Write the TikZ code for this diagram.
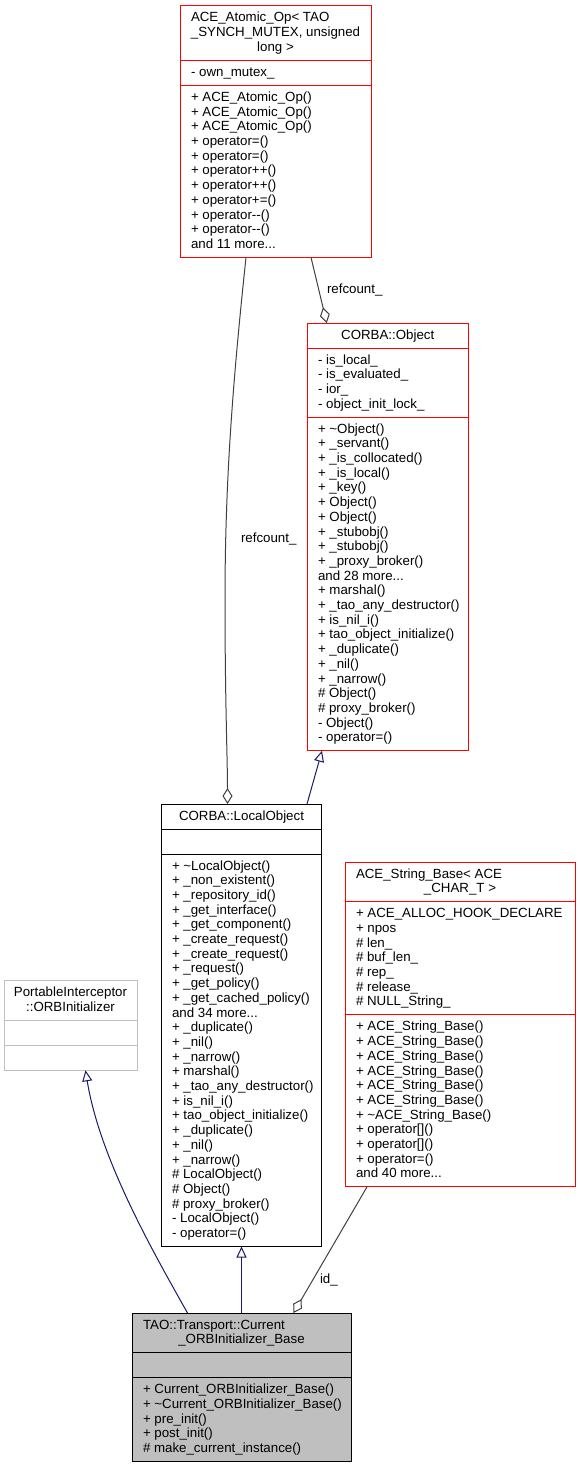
\documentclass[tikz,border=0pt]{standalone}
\usepackage{fontspec}
\setmainfont{Liberation Sans}
\usetikzlibrary{arrows.meta}
\definecolor{navy}{HTML}{191970}
\definecolor{edgegray}{HTML}{404040}
\definecolor{boxred}{HTML}{FF0000}
\definecolor{boxgray}{HTML}{BFBFBF}
\definecolor{lightgray}{HTML}{C0C0C0}
\newcommand\seclines[4]{\foreach \itm [count=\i from 0] in {#4}{\node[txt,anchor=base west] (#1\i) at ({#2},{#3+16+\i*14.7}) {\itm};}}
\begin{document}
\begin{tikzpicture}[x=1pt,y=-1pt,line width=1pt,
  txt/.style={inner sep=0pt,outer sep=0pt,font=\fontsize{13.3}{14.7}\selectfont},
  classbox/.style={draw=#1,minimum height=0pt,inner sep=0pt,outer sep=0pt,anchor=north west},
  agg/.style={draw=edgegray,-{Diamond[open,length=16pt,width=10pt]}},
  inh/.style={draw=navy,-{Triangle[open,length=11pt,width=10pt]}}]
\useasboundingbox (0,0) rectangle (580,1469);

% ACE_Atomic_Op
\node[classbox=boxred,minimum width=191pt,minimum height=251.4pt] (ao) at (180,6) {};
\draw[boxred] (180,60.4) -- (371,60.4);
\draw[boxred] (180,85.4) -- (371,85.4);
\node[txt,anchor=base west] (aot1) at (191,22) {ACE\_Atomic\_Op< TAO};
\node[txt,anchor=base] (aot2) at (275.5,36.7) {\_SYNCH\_MUTEX, unsigned};
\node[txt,anchor=base] (aot3) at (275.5,51.4) {long >};
\seclines{aoa}{191}{60.4}{{- own\_mutex\_}}
\seclines{aom}{191}{85.4}{{+ ACE\_Atomic\_Op()},{+ ACE\_Atomic\_Op()},{+ ACE\_Atomic\_Op()},{+ operator=()},{+ operator=()},{+ operator++()},{+ operator++()},{+ operator+=()},{+ operator-{}-()},{+ operator-{}-()},{and 11 more.{}.{}.}}

% CORBA::Object
\node[classbox=boxred,minimum width=160.5pt,minimum height=427.8pt] (obj) at (307.5,323) {};
\draw[boxred] (307.5,348) -- (468,348);
\draw[boxred] (307.5,417.1) -- (468,417.1);
\node[txt,anchor=base] (objt) at (387.75,339) {CORBA::Object};
\seclines{obja}{318}{348}{{- is\_local\_},{- is\_evaluated\_},{- ior\_},{- object\_init\_lock\_}}
\seclines{objm}{318}{417.1}{{+ \textasciitilde{}Object()},{+ \_servant()},{+ \_is\_collocated()},{+ \_is\_local()},{+ \_key()},{+ Object()},{+ Object()},{+ \_stubobj()},{+ \_stubobj()},{+ \_proxy\_broker()},{and 28 more.{}.{}.},{+ marshal()},{+ \_tao\_any\_destructor()},{+ is\_nil\_i()},{+ tao\_object\_initialize()},{+ \_duplicate()},{+ \_nil()},{+ \_narrow()},{\# Object()},{\# proxy\_broker()},{- Object()},{- operator=()}}

% CORBA::LocalObject
\node[classbox=black,minimum width=160pt,minimum height=442.5pt] (lo) at (161.5,804) {};
\draw (161.5,829) -- (321.5,829);
\draw (161.5,854) -- (321.5,854);
\node[txt,anchor=base] (lot) at (241.5,820) {CORBA::LocalObject};
\seclines{lom}{172}{854}{{+ \textasciitilde{}LocalObject()},{+ \_non\_existent()},{+ \_repository\_id()},{+ \_get\_interface()},{+ \_get\_component()},{+ \_create\_request()},{+ \_create\_request()},{+ \_request()},{+ \_get\_policy()},{+ \_get\_cached\_policy()},{and 34 more.{}.{}.},{+ \_duplicate()},{+ \_nil()},{+ \_narrow()},{+ marshal()},{+ \_tao\_any\_destructor()},{+ is\_nil\_i()},{+ tao\_object\_initialize()},{+ \_duplicate()},{+ \_nil()},{+ \_narrow()},{\# LocalObject()},{\# Object()},{\# proxy\_broker()},{- LocalObject()},{- operator=()}}

% ACE_String_Base
\node[classbox=boxred,minimum width=230pt,minimum height=324.9pt] (sb) at (345,862) {};
\draw[boxred] (345,901.7) -- (575,901.7);
\draw[boxred] (345,1014.9) -- (575,1014.9);
\node[txt,anchor=base west] (sbt1) at (356,878) {ACE\_String\_Base< ACE};
\node[txt,anchor=base] (sbt2) at (460,892.7) {\_CHAR\_T >};
\seclines{sba}{356}{901.7}{{+ ACE\_ALLOC\_HOOK\_DECLARE},{+ npos},{\# len\_},{\# buf\_len\_},{\# rep\_},{\# release\_},{\# NULL\_String\_}}
\seclines{sbm}{356}{1014.9}{{+ ACE\_String\_Base()},{+ ACE\_String\_Base()},{+ ACE\_String\_Base()},{+ ACE\_String\_Base()},{+ ACE\_String\_Base()},{+ ACE\_String\_Base()},{+ \textasciitilde{}ACE\_String\_Base()},{+ operator[]()},{+ operator[]()},{+ operator=()},{and 40 more.{}.{}.}}

% PortableInterceptor::ORBInitializer
\node[classbox=lightgray,minimum width=133pt,minimum height=89.7pt] (orb) at (4,980.6) {};
\draw[lightgray] (4,1020.3) -- (137,1020.3);
\draw[lightgray] (4,1045.3) -- (137,1045.3);
\node[txt,anchor=base] (orbt1) at (70.5,996.6) {PortableInterceptor};
\node[txt,anchor=base] (orbt2) at (70.5,1011.3) {::ORBInitializer};

% TAO::Transport::Current_ORBInitializer_Base
\node[classbox=black,fill=boxgray,minimum width=219pt,minimum height=148.5pt] (tao) at (132,1313) {};
\draw (132,1352.7) -- (351,1352.7);
\draw (132,1377.7) -- (351,1377.7);
\node[txt,anchor=base west] (taot1) at (143,1329) {TAO::Transport::Current};
\node[txt,anchor=base] (taot2) at (241.5,1343.7) {\_ORBInitializer\_Base};
\seclines{taom}{143}{1377.7}{{+ Current\_ORBInitializer\_Base()},{+ \textasciitilde{}Current\_ORBInitializer\_Base()},{+ pre\_init()},{+ post\_init()},{\# make\_current\_instance()}}

% connectors
\draw[agg] ([xshift=-29.5pt]ao.south) .. controls (233,380) and (225,480) .. (225,600) .. controls (225,700) and (227.5,760) .. ([xshift=-14pt]lo.north);
\node[txt,anchor=base west] (lbl1) at (241,542) {refcount\_};
\draw[agg] ([xshift=35.5pt]ao.south) -- ([xshift=-61pt]obj.north);
\node[txt,anchor=base west] (lbl2) at (327,293) {refcount\_};
\draw[inh] ([xshift=65.5pt]lo.north) -- ([xshift=-65.75pt]obj.south);
\draw[inh] (tao.north) -- (lo.south);
\draw[inh] ([xshift=-54pt]tao.north) .. controls (155,1255) and (100,1160) .. ([xshift=15pt]orb.south);
\draw[agg] ([xshift=-93pt]sb.south) -- ([xshift=52pt]tao.north);
\node[txt,anchor=base west] (lbl3) at (320,1283) {id\_};
\end{tikzpicture}
\end{document}
